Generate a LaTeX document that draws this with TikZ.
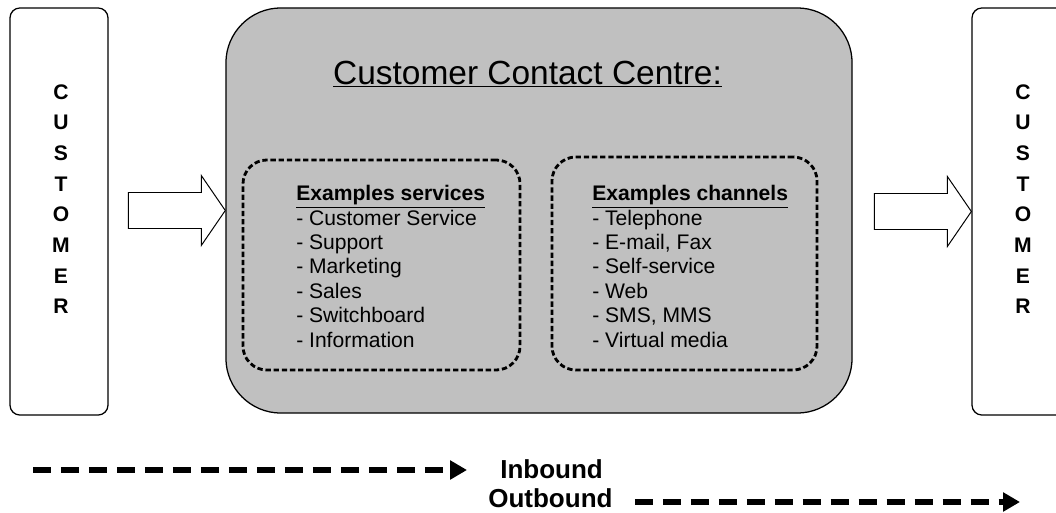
\documentclass[tikz,border=0pt]{standalone}
\usepackage{fontspec}
\setmainfont{Liberation Sans}
\usetikzlibrary{arrows.meta,calc}
\definecolor{ccgray}{HTML}{C0C0C0}

\begin{document}
\begin{tikzpicture}[x=0.025cm, y=-0.025cm,
    custbox/.style={draw, line width=0.9pt, rounded corners=0.25cm, minimum width=2.45cm, minimum height=10.175cm, inner sep=0pt},
    custtext/.style={align=center, inner sep=0pt, font=\fontsize{15}{21.8}\selectfont\bfseries},
    dashbox/.style={draw, line width=2pt, dash pattern=on 3.8pt off 2pt, rounded corners=0.6cm, inner sep=0pt},
    listtext/.style={align=left, anchor=north west, inner sep=0pt, font=\fontsize{15}{17.4}\selectfont},
    blockarrow/.style={draw, fill=white, line width=0.7pt},
    legendline/.style={line width=4pt, dash pattern=on 12.8pt off 7.1pt, -{Triangle[length=12pt,width=13pt]}},
    legendtext/.style={inner sep=0pt, anchor=base west, font=\bfseries\fontsize{18.5}{22}\selectfont}]
    \useasboundingbox (0,0) rectangle (1056,512);
    \clip (0,0) rectangle (1056,512);

    % Customers on both sides
    \node[custbox] (custL) at (59,211.5) {};
    \node[custtext] (custLtext) at (61,199) {C\\U\\S\\T\\O\\M\\E\\R};
    \node[custbox] (custR) at (1021,211.5) {};
    \node[custtext] (custRtext) at (1023,199) {C\\U\\S\\T\\O\\M\\E\\R};

    % Contact centre
    \node[draw, line width=0.9pt, fill=ccgray, rounded corners=1.375cm, minimum width=15.65cm, minimum height=10.125cm] (centre) at (539,210.5) {};
    \node[inner sep=0pt, anchor=base, font=\fontsize{23.8}{28}\selectfont] (title) at (527.5,84) {\underline{Customer Contact Centre:}};

    \node[dashbox, minimum width=6.925cm, minimum height=5.25cm] (svcBox) at (381.5,265) {};
    \node[listtext] (svcList) at (296,185) {\textbf{\underline{Examples services}}\\- Customer Service\\- Support\\- Marketing\\- Sales\\- Switchboard\\- Information};

    \node[dashbox, minimum width=6.625cm, minimum height=5.325cm] (chanBox) at (684.5,263.5) {};
    \node[listtext] (chanList) at (592,185) {\textbf{\underline{Examples channels}}\\- Telephone\\- E-mail, Fax\\- Self-service\\- Web\\- SMS, MMS\\- Virtual media};

    % Block arrows
    \draw[blockarrow] (centre.west) -- ++(-24,-35) -- ++(0,17) -- ++(-73,0) -- ++(0,36) -- ++(73,0) -- ++(0,17) -- cycle;
    \draw[blockarrow] (custR.west) -- ++(-24,-35) -- ++(0,17) -- ++(-73,0) -- ++(0,36) -- ++(73,0) -- ++(0,17) -- cycle;

    % Legend
    \node[legendtext] (inbound) at (500,478) {Inbound};
    \node[legendtext] (outbound) at (488,507) {Outbound};
    \coordinate (inStart) at (33,470);
    \coordinate (outEnd) at (1020,502);
    \draw[legendline] (inStart) -- ($(inbound.west |- inStart)+(-33,0)$);
    \draw[legendline] ($(outbound.east |- outEnd)+(22,0)$) -- (outEnd);
\end{tikzpicture}
\end{document}
